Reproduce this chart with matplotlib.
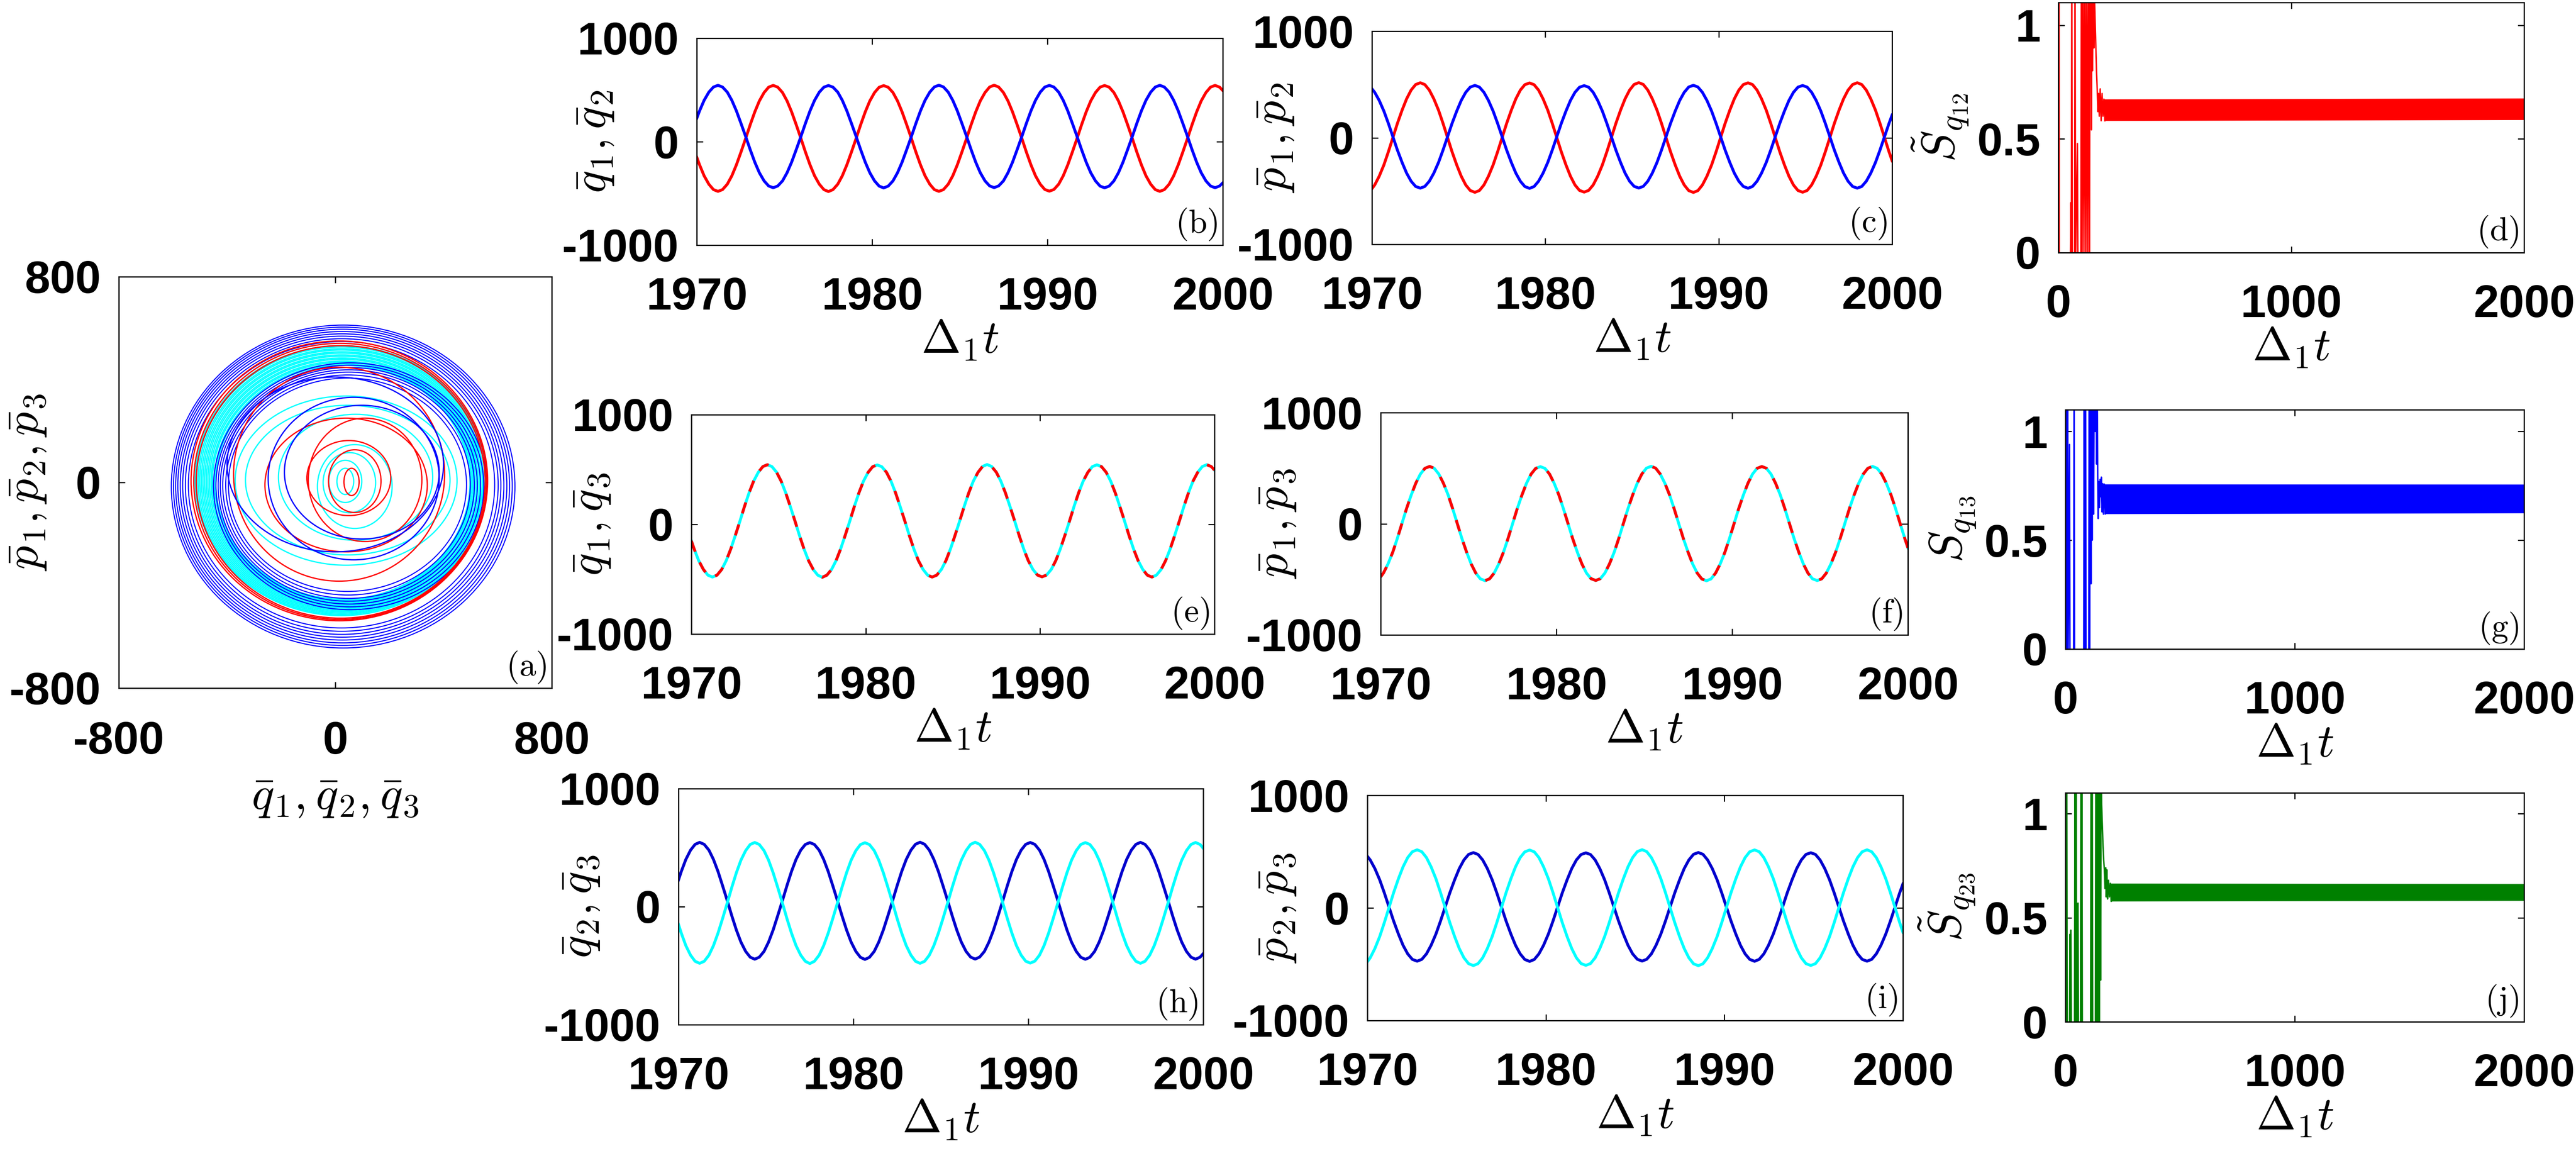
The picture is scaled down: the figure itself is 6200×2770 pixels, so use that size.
import matplotlib
matplotlib.use('Agg')
import matplotlib.pyplot as plt
import matplotlib.transforms as mtransforms
from matplotlib.patches import Ellipse

plt.rcParams['font.family'] = ['Liberation Sans', 'DejaVu Sans']
plt.rcParams['font.weight'] = 'bold'
plt.rcParams['mathtext.fontset'] = 'cm'
plt.rcParams['axes.unicode_minus'] = False

W, H = 6200, 2770

# ---- zoomed time window, Delta_1 t in [1970, 2000] ----
t_win = [1970.0,
         1970.16, 1970.42, 1970.69, 1970.95, 1971.21, 1971.47, 1971.74, 1972.00,
         1972.26, 1972.52, 1972.79, 1973.05, 1973.31, 1973.57, 1973.84, 1974.10,
         1974.36, 1974.62, 1974.89, 1975.15, 1975.41, 1975.67, 1975.94, 1976.20,
         1976.46, 1976.72, 1976.99, 1977.25, 1977.51, 1977.77, 1978.04, 1978.30,
         1978.56, 1978.82, 1979.09, 1979.35, 1979.61, 1979.87, 1980.14, 1980.40,
         1980.66, 1980.92, 1981.19, 1981.45, 1981.71, 1981.97, 1982.24, 1982.50,
         1982.76, 1983.02, 1983.29, 1983.55, 1983.81, 1984.07, 1984.34, 1984.60,
         1984.86, 1985.12, 1985.39, 1985.65, 1985.91, 1986.17, 1986.44, 1986.70,
         1986.96, 1987.22, 1987.49, 1987.75, 1988.01, 1988.27, 1988.54, 1988.80,
         1989.06, 1989.32, 1989.59, 1989.85, 1990.11, 1990.37, 1990.64, 1990.90,
         1991.16, 1991.42, 1991.69, 1991.95, 1992.21, 1992.47, 1992.74, 1993.00,
         1993.26, 1993.52, 1993.79, 1994.05, 1994.31, 1994.57, 1994.84, 1995.10,
         1995.36, 1995.62, 1995.89, 1996.15, 1996.41, 1996.67, 1996.94, 1997.20,
         1997.46, 1997.72, 1997.99, 1998.25, 1998.51, 1998.77, 1999.04, 1999.30,
         1999.56, 1999.82,
         2000.0]

q1 = [-150,
      -224, -330, -411, -463, -480, -463, -411, -330, -224, -101, 32, 165,
      288, 394, 475, 527, 544, 527, 475, 394, 288, 165, 32, -101,
      -224, -330, -411, -463, -482, -463, -411, -330, -224, -101, 32, 165,
      288, 394, 475, 526, 542, 526, 475, 394, 288, 165, 32, -101,
      -224, -330, -411, -463, -480, -463, -411, -330, -224, -101, 32, 165,
      288, 394, 475, 528, 546, 528, 475, 394, 288, 165, 32, -101,
      -224, -330, -411, -462, -478, -462, -411, -330, -224, -101, 32, 165,
      288, 394, 475, 527, 543, 527, 475, 394, 288, 165, 32, -101,
      -224, -330, -411, -463, -480, -463, -411, -330, -224, -101, 32, 165,
      288, 394, 475, 527, 544, 527,
      495]
q2 = [226,
      298, 400, 479, 528, 545, 528, 479, 400, 298, 178, 50, -78,
      -198, -300, -379, -428, -445, -428, -379, -300, -198, -78, 50, 178,
      298, 400, 479, 527, 543, 527, 479, 400, 298, 178, 50, -78,
      -198, -300, -379, -429, -447, -429, -379, -300, -198, -78, 50, 178,
      298, 400, 479, 529, 546, 529, 479, 400, 298, 178, 50, -78,
      -198, -300, -379, -427, -444, -427, -379, -300, -198, -78, 50, 178,
      298, 400, 479, 528, 544, 528, 479, 400, 298, 178, 50, -78,
      -198, -300, -379, -429, -446, -429, -379, -300, -198, -78, 50, 178,
      298, 400, 479, 528, 545, 528, 479, 400, 298, 178, 50, -78,
      -198, -300, -379, -428, -445, -428,
      -398]
p1 = [-478,
      -443, -361, -255, -131, 2, 135, 259, 365, 447, 499, 516, 499,
      447, 365, 259, 135, 2, -131, -255, -361, -443, -495, -512, -495,
      -443, -361, -255, -131, 2, 135, 259, 365, 447, 498, 514, 498,
      447, 365, 259, 135, 2, -131, -255, -361, -443, -494, -510, -494,
      -443, -361, -255, -131, 2, 135, 259, 365, 447, 500, 517, 500,
      447, 365, 259, 135, 2, -131, -255, -361, -443, -496, -513, -496,
      -443, -361, -255, -131, 2, 135, 259, 365, 447, 499, 515, 499,
      447, 365, 259, 135, 2, -131, -255, -361, -443, -495, -511, -495,
      -443, -361, -255, -131, 2, 135, 259, 365, 447, 499, 516, 499,
      447, 365, 259, 135, 2, -131,
      -216]
p2 = [459,
      426, 350, 250, 134, 9, -116, -232, -332, -408, -457, -473, -457,
      -408, -332, -232, -116, 9, 134, 250, 350, 426, 475, 491, 475,
      426, 350, 250, 134, 9, -116, -232, -332, -408, -458, -475, -458,
      -408, -332, -232, -116, 9, 134, 250, 350, 426, 474, 489, 474,
      426, 350, 250, 134, 9, -116, -232, -332, -408, -456, -472, -456,
      -408, -332, -232, -116, 9, 134, 250, 350, 426, 476, 492, 476,
      426, 350, 250, 134, 9, -116, -232, -332, -408, -457, -474, -457,
      -408, -332, -232, -116, 9, 134, 250, 350, 426, 475, 490, 475,
      426, 350, 250, 134, 9, -116, -232, -332, -408, -457, -473, -457,
      -408, -332, -232, -116, 9, 134,
      213]
# mode 3 coincides with mode 1 in panels (e), (f), (h), (i)
q3 = list(q1)
p3 = list(p1)

# ---- synchronization measures over the whole run ----
t_s12 = [0, 1, 3, 4, 52, 54, 56, 58, 60, 70, 72, 74, 82, 84, 97, 99, 102, 106, 110, 114,
         118, 122, 126, 130, 134, 136, 139, 141, 142, 144, 147, 150, 153, 156, 160, 164,
         167, 170, 173, 176, 180, 184, 188, 192, 196, 200]
s12 = [-0.05, 1.3, 1.3, -0.05, -0.05, 0.22, -0.05, 1.3, -0.05, -0.05, 1.3, -0.05, 0.48,
       -0.05, -0.05, 1.3, -0.05, 1.3, -0.05, 1.3, -0.05, 1.3, -0.05, 1.3, -0.05, 1.3, 0.85,
       1.3, 0.54, 1.3, 0.8, 1.3, 0.9, 1.1, 0.95, 0.8, 0.72, 0.62, 0.7, 0.6, 0.72, 0.58,
       0.7, 0.6, 0.675, 0.58]
band12_t = [196, 2000]
band12_lo = [0.58, 0.584]
band12_hi = [0.675, 0.679]

t_s13 = [0, 2, 4, 6, 8, 10, 12, 18, 20, 36, 38, 40, 80, 82, 84, 88, 90, 102, 104, 106,
         108, 112, 114, 117, 120, 123, 126, 130, 133, 136, 139, 141, 143, 146, 149, 152,
         155, 157, 160, 163, 166, 170, 174]
s13 = [-0.05, 1.3, -0.05, 1.3, -0.05, 1.3, -0.05, 0.94, -0.05, -0.05, 1.3, -0.05, -0.05,
       1.3, -0.05, 1.3, -0.05, -0.05, 1.3, -0.05, 1.3, 0.3, 1.3, 0.5, 1.3, 0.62, 1.3, 1.0,
       1.3, 0.85, 1.2, 0.8, 0.6, 0.77, 0.65, 0.78, 0.7, 0.79, 0.63, 0.76, 0.62, 0.758, 0.621]
band13_t = [170, 2000]
band13_lo = [0.621, 0.625]
band13_hi = [0.758, 0.757]

t_s23 = [0, 2, 4, 6, 8, 18, 20, 22, 24, 26, 40, 42, 44, 47, 49, 51, 53, 55, 57, 66, 68,
         70, 72, 74, 110, 112, 114, 117, 119, 131, 133, 136, 139, 142, 145, 148, 151, 154,
         156, 158, 161, 164, 167, 170, 173, 176, 178, 181, 184, 188, 192, 196, 200]
s23 = [-0.05, 1.3, -0.05, 1.3, -0.05, -0.05, 0.42, -0.05, 0.44, -0.05, -0.05, 1.3, -0.05,
       1.3, -0.05, 0.4, -0.05, 0.57, -0.05, -0.05, 1.3, -0.05, 1.3, -0.05, -0.05, 1.3,
       -0.05, 1.3, -0.05, -0.05, 1.3, -0.05, 1.3, -0.05, 1.3, -0.05, 1.3, 0.2, 1.3, 1.05,
       0.95, 0.85, 0.78, 0.73, 0.64, 0.74, 0.6, 0.73, 0.59, 0.68, 0.6, 0.665, 0.579]
band23_t = [196, 2000]
band23_lo = [0.579, 0.582]
band23_hi = [0.665, 0.663]

# ---- phase portrait loops (centre x, centre y, half width, half height) ----
blue_out_cx = [29, 28, 27, 26, 25, 24, 24, 23]
blue_out_cy = [-16, -15, -14, -13, -12, -11, -10, -9]
blue_out_rx = [635, 626, 617, 608, 598, 588, 578, 566]
blue_out_ry = [628, 619, 610, 600, 590, 580, 569, 557]

blue_ring_cx = [55, 54, 52, 50, 49, 47, 45]
blue_ring_cy = [-15, -14, -13, -12, -11, -10, -9]
blue_ring_rx = [505, 495, 485, 475, 465, 452, 440]
blue_ring_ry = [480, 470, 460, 450, 440, 428, 415]

cyan_ring_cx = [22, 22, 23, 23, 24, 24, 25, 25, 26, 26, 27, 27, 28, 28]
cyan_ring_cy = [7, 7, 6, 6, 5, 5, 4, 4, 3, 3, 2, 2, 1, 1]
cyan_ring_rx = [540, 535, 530, 524, 519, 513, 508, 502, 497, 491, 486, 481, 475, 470]
cyan_ring_ry = [525, 520, 514, 509, 503, 498, 492, 487, 481, 476, 470, 465, 460, 455]

red_out_cx = [15, 18, 20]
red_out_cy = [6, 4, 2]
red_out_rx = [548, 541, 534]
red_out_ry = [544, 537, 530]

cyan_in_cx = [40, 46, 75, 72, 52, 37, 37]
cyan_in_cy = [7, 9, 20, -16, -1, 4, 4]
cyan_in_rx = [410, 378, 285, 138, 97, 61, 31]
cyan_in_ry = [329, 291, 245, 163, 117, 82, 51]

red_in_cx = [14, 40, 110, 50, 72, 60]
red_in_cy = [32, -10, 10, 17, 5, 2]
red_in_rx = [390, 300, 210, 155, 97, 28]
red_in_ry = [416, 260, 240, 146, 122, 53]

blue_in_cx = [0, 68, 98]
blue_in_cy = [70, 15, 40]
blue_in_rx = [400, 316, 286]
blue_in_ry = [340, 316, 260]

fig = plt.figure(figsize=(W / 100, H / 100), dpi=100)
px = mtransforms.Affine2D().scale(1.0 / W, -1.0 / H).translate(0, 1) + fig.transFigure


def add_box(x0, x1, y0, y1):
    return fig.add_axes([x0 / W, 1 - y1 / H, (x1 - x0) / W, (y1 - y0) / H])


def style(ax, box, xlim, ylim, xt, yt, ylab, ylab_x, letter, xlab=r'$\Delta_1 t$',
          xlab_y=None, ytl=None, xpad=55):
    ax.set_xlim(xlim)
    ax.set_ylim(ylim)
    ax.set_xticks(xt)
    ax.set_yticks(yt)
    if ytl is not None:
        ax.set_yticklabels(ytl)
    ax.tick_params(direction='in', top=True, right=True, length=11, width=2,
                   labelsize=79)
    ax.tick_params(axis='x', pad=xpad)
    ax.tick_params(axis='y', pad=31)
    for s in ax.spines.values():
        s.set_linewidth(2.2)
    ax.set_ylabel(ylab, fontsize=82)
    ax.yaxis.set_label_coords(ylab_x, (box[2] + box[3]) / 2, transform=px)
    ax.set_xlabel(xlab, fontsize=82)
    if xlab_y is None:
        xlab_y = box[3] + 178
    ax.xaxis.set_label_coords((box[0] + box[1]) / 2, xlab_y, transform=px)
    ax.annotate(r'$\mathrm{(%s)}$' % letter, xy=(1, 0), xycoords='axes fraction',
                xytext=(-9, 6), textcoords='offset points', ha='right', va='bottom',
                fontsize=58)


def loops(ax, cx, cy, rx, ry, color, lw, z):
    for x, y, a, b in zip(cx, cy, rx, ry):
        ax.add_patch(Ellipse((x, y), 2 * a, 2 * b, fill=False, edgecolor=color,
                             linewidth=lw, zorder=z))


# (a) phase portrait
box_a = (286, 1328, 666, 1656)
ax = add_box(*box_a)
loops(ax, blue_out_cx, blue_out_cy, blue_out_rx, blue_out_ry, 'blue', 1.8, 2)
loops(ax, cyan_ring_cx, cyan_ring_cy, cyan_ring_rx, cyan_ring_ry, 'cyan', 2.3, 3)
loops(ax, blue_ring_cx, blue_ring_cy, blue_ring_rx, blue_ring_ry, 'blue', 1.8, 4)
loops(ax, red_out_cx, red_out_cy, red_out_rx, red_out_ry, 'red', 2.2, 5)
loops(ax, cyan_in_cx, cyan_in_cy, cyan_in_rx, cyan_in_ry, 'cyan', 2.2, 6)
loops(ax, red_in_cx, red_in_cy, red_in_rx, red_in_ry, 'red', 2.2, 6)
loops(ax, blue_in_cx, blue_in_cy, blue_in_rx, blue_in_ry, 'blue', 2.2, 6)
style(ax, box_a, (-800, 800), (-800, 800), [-800, 0, 800], [-800, 0, 800],
      r'$\bar{p}_1, \bar{p}_2, \bar{p}_3$', 116, 'a',
      xlab=r'$\bar{q}_1, \bar{q}_2, \bar{q}_3$', xlab_y=1866, xpad=57)

t_lim = (1970, 2000)
t_ticks = [1970, 1980, 1990, 2000]
v_lim = (-1000, 1000)
v_ticks = [-1000, 0, 1000]
dark_blue = '#0000CD'

# (b)
box = (1677, 2943, 92, 590)
ax = add_box(*box)
ax.plot(t_win, q1, color='red', lw=5)
ax.plot(t_win, q2, color='blue', lw=5)
style(ax, box, t_lim, v_lim, t_ticks, v_ticks, r'$\bar{q}_1, \bar{q}_2$', 1482, 'b')

# (c)
box = (3302, 4554, 75, 588)
ax = add_box(*box)
ax.plot(t_win, p1, color='red', lw=5)
ax.plot(t_win, p2, color='blue', lw=5)
style(ax, box, t_lim, v_lim, t_ticks, v_ticks, r'$\bar{p}_1, \bar{p}_2$', 3119, 'c')

# (e)
box = (1664, 2923, 998, 1526)
ax = add_box(*box)
ax.plot(t_win, q3, color='cyan', lw=5)
ax.plot(t_win, q1, color='red', lw=5, dashes=(4, 4))
style(ax, box, t_lim, v_lim, t_ticks, v_ticks, r'$\bar{q}_1, \bar{q}_3$', 1474, 'e')

# (f)
box = (3323, 4592, 993, 1528)
ax = add_box(*box)
ax.plot(t_win, p3, color='cyan', lw=5)
ax.plot(t_win, p1, color='red', lw=5, dashes=(4, 4))
style(ax, box, t_lim, v_lim, t_ticks, v_ticks, r'$\bar{p}_1, \bar{p}_3$', 3124, 'f')

# (h)
box = (1633, 2896, 1898, 2466)
ax = add_box(*box)
ax.plot(t_win, q2, color=dark_blue, lw=5)
ax.plot(t_win, q3, color='cyan', lw=5)
style(ax, box, t_lim, v_lim, t_ticks, v_ticks, r'$\bar{q}_2, \bar{q}_3$', 1448, 'h')

# (i)
box = (3291, 4580, 1914, 2456)
ax = add_box(*box)
ax.plot(t_win, p2, color=dark_blue, lw=5)
ax.plot(t_win, p3, color='cyan', lw=5)
style(ax, box, t_lim, v_lim, t_ticks, v_ticks, r'$\bar{p}_2, \bar{p}_3$', 3124, 'i')

# (d), (g), (j) synchronization
s_lim = (0, 1.1)
s_ticks = [0, 0.5, 1]
s_tl = ['0', '0.5', '1']
long_lim = (0, 2000)
long_ticks = [0, 1000, 2000]

box = (4954, 6075, 6, 608)
ax = add_box(*box)
ax.plot(t_s12, s12, color='red', lw=2.5)
ax.fill_between(band12_t, band12_lo, band12_hi, color='red', lw=0)
style(ax, box, long_lim, s_lim, long_ticks, s_ticks, r'$\tilde{S}_{q_{12}}$', 4742, 'd',
      ytl=s_tl)

box = (4971, 6075, 986, 1562)
ax = add_box(*box)
ax.plot(t_s13, s13, color='blue', lw=2.5)
ax.fill_between(band13_t, band13_lo, band13_hi, color='blue', lw=0)
style(ax, box, long_lim, s_lim, long_ticks, s_ticks, r'$S_{q_{13}}$', 4760, 'g',
      ytl=s_tl)

box = (4971, 6075, 1908, 2459)
ax = add_box(*box)
ax.plot(t_s23, s23, color='#008000', lw=2.5)
ax.fill_between(band23_t, band23_lo, band23_hi, color='#008000', lw=0)
style(ax, box, long_lim, s_lim, long_ticks, s_ticks, r'$\tilde{S}_{q_{23}}$', 4758, 'j',
      ytl=s_tl)

fig.savefig('out.png', dpi=100, facecolor='white')
